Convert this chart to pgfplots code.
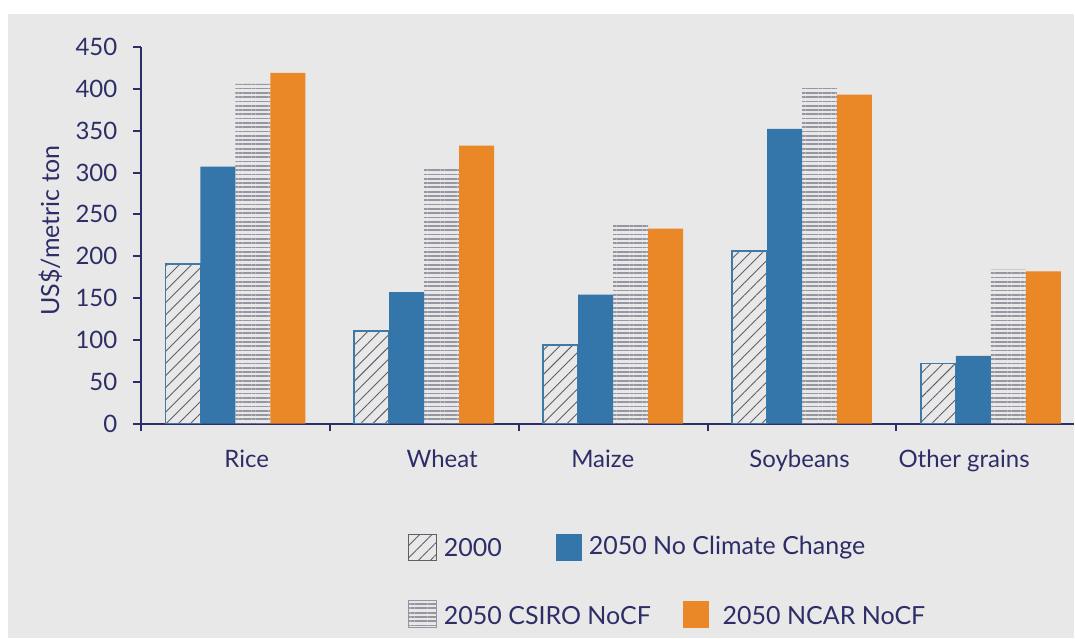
\documentclass[border=0pt]{standalone}
\usepackage{pgfplots}
\pgfplotsset{compat=1.18}
\usetikzlibrary{patterns.meta}
\usepackage{fontspec}
\setmainfont{Lato}

\definecolor{navy}{RGB}{45,46,104}
\definecolor{bggray}{RGB}{232,232,232}
\definecolor{barblue}{RGB}{52,118,170}
\definecolor{barorange}{RGB}{234,135,38}
\definecolor{hatchedge}{RGB}{62,122,165}
\definecolor{hatchline}{RGB}{95,95,105}
\definecolor{stripe}{RGB}{150,150,162}

\tikzset{
  diag/.style={pattern={Lines[angle=45,distance=4.3pt,line width=0.45pt]}, pattern color=hatchline},
  horiz/.style={pattern={Lines[angle=0,distance=2.15pt,line width=0.9pt]}, pattern color=stripe},
}

\begin{document}
\begin{tikzpicture}[x=1pt,y=1pt]
% page and panel background
\fill[white] (0,0) rectangle (537.5,319.5);
\fill[bggray] (4,0) rectangle (537.5,312.5);

\begin{axis}[
  at={(70.5pt,107.5pt)}, anchor=south west,
  scale only axis, width=467pt, height=188.5pt,
  ymin=0, ymax=450, ytick={0,50,...,450},
  xmin=-0.5, xmax=4.44,
  axis lines*=left,
  axis line style={draw=navy, line width=1pt},
  tick align=outside,
  tick style={draw=navy, line width=1pt},
  major tick length=3.8pt,
  xtick={-0.5,0.5,1.5,2.5,3.5},
  xticklabels={,,,,},
  extra x ticks={0.06,1.095,1.945,2.987,3.858},
  extra x tick labels={Rice,Wheat,Maize,Soybeans,Other grains},
  extra x tick style={major tick length=0pt, tick style={draw=none},
     xticklabel style={yshift=-9.5pt}},
  ticklabel style={font=\fontsize{12}{14}\selectfont, text=navy},
  every y tick label/.append style={xshift=-4.5pt},
  /pgf/number format/assume math mode=true,
  ylabel={US\$/metric ton},
  ylabel style={font=\fontsize{12.5}{15}\selectfont, text=navy,
     at={(axis description cs:-0.097,0.512)}, anchor=center},
  ybar=0pt, bar width=17.5pt,
  clip=false,
]
% 2000
\addplot[draw=hatchedge, line width=0.8pt, diag] coordinates
  {(0,191) (1,111) (2,94) (3,206) (4,72)};
% 2050 No Climate Change
\addplot[fill=barblue, draw=none] coordinates
  {(0,307) (1,157) (2,154) (3,352) (4,81)};
% 2050 CSIRO NoCF
\addplot[draw=none, horiz] coordinates
  {(0,406) (1,305) (2,239) (3,401) (4,184)};
% 2050 NCAR NoCF
\addplot[fill=barorange, draw=none] coordinates
  {(0,419) (1,332) (2,233) (3,393) (4,182)};
\end{axis}

% legend
\begin{scope}[font=\fontsize{12.5}{15}\selectfont, text=navy]
  \draw[draw=hatchline, line width=0.5pt, diag] (204.5,38.75) rectangle (218.5,52.25);
  \node[anchor=west, inner sep=0pt] at (222,45.5) {2000};
  \fill[barblue] (278.5,38.75) rectangle (291.5,52.25);
  \node[anchor=west, inner sep=0pt] at (294.5,45.5) {2050 No Climate Change};
  \draw[draw=stripe, line width=0.5pt, horiz] (204.5,5.25) rectangle (218.5,18.75);
  \node[anchor=west, inner sep=0pt] at (222,11.5) {2050 CSIRO NoCF};
  \fill[barorange] (342,5.25) rectangle (355,18.75);
  \node[anchor=west, inner sep=0pt] at (361.5,11.5) {2050 NCAR NoCF};
\end{scope}
\useasboundingbox (0,0) rectangle (537.5,319.5);
\end{tikzpicture}
\end{document}
